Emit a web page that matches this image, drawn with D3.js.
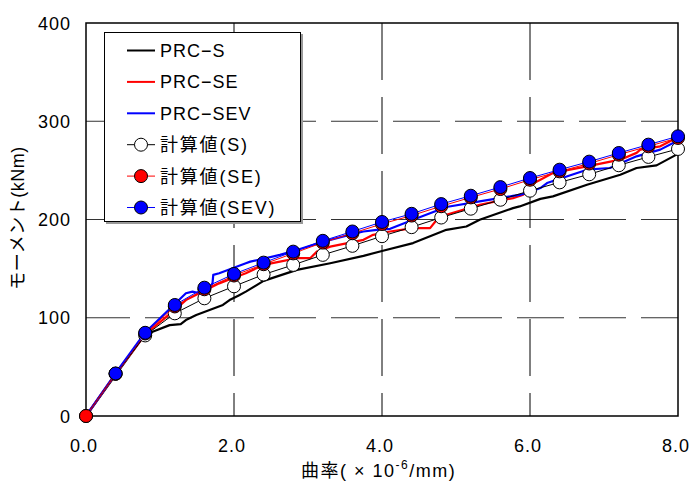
<!DOCTYPE html>
<html>
<head>
<meta charset="utf-8">
<script src="https://cdn.jsdelivr.net/npm/d3@7.9.0/dist/d3.min.js"></script>
<style>
  body { margin: 0; background: #fff; }
  text { font-family: "Liberation Sans", "Noto Sans CJK JP", sans-serif; fill: #000; }
</style>
</head>
<body>
<svg id="chart" width="690" height="489"></svg>
<script>
// x tick labels / y tick values
const xTicks = [0, 2, 4, 6, 8];
const yTicks = [0, 100, 200, 300, 400];
const xGrid = [2, 4, 6];
const yGrid = [100, 200, 300];

// measured curves (curvature x1e-6/mm, moment kNm)
const expSX = [0, 0.4, 0.74, 0.9, 1.13, 1.28, 1.35, 1.49, 1.67, 1.85, 1.94, 2.07, 2.16, 2.4, 2.85, 3.3, 3.75, 4.0, 4.42, 4.87, 5.14, 5.32, 5.77, 5.86, 6.14, 6.31, 6.77, 7.22, 7.44, 7.71, 7.98, 8.0];
const expSY = [0, 42, 77, 85.7, 92.5, 93.6, 97.7, 102.8, 107.9, 113, 118, 123, 126.6, 137.5, 148.7, 155.5, 163, 168, 176, 189.5, 192.9, 199.7, 211.6, 213.3, 221, 223.5, 235.4, 245.6, 252.4, 255.1, 266, 266.5];

const expSEX = [0, 0.4, 0.8, 1.2, 1.35, 1.53, 1.8, 1.98, 2.16, 2.4, 2.62, 2.85, 3.03, 3.12, 3.3, 3.75, 3.88, 4.11, 4.42, 4.65, 4.74, 4.87, 5.32, 5.77, 5.91, 6.0, 6.14, 6.31, 6.77, 7.22, 7.44, 7.49, 7.76, 7.98, 8.0];
const expSEY = [0, 43, 83, 108, 118, 125, 135, 140.2, 145.3, 153.8, 157.1, 160.6, 160.6, 167.3, 172.4, 179.3, 184.4, 187.8, 191.2, 191.2, 199.7, 204.8, 215, 221.8, 225.2, 235, 240.5, 247.3, 254.1, 260.9, 267.8, 271.1, 274.5, 283, 283.5];

const expSEVX = [0, 0.4, 0.8, 1.2, 1.35, 1.44, 1.53, 1.65, 1.71, 1.72, 1.8, 1.98, 2.16, 2.22, 2.62, 2.85, 3.07, 3.3, 3.61, 3.75, 3.93, 4.11, 4.42, 4.87, 5.32, 5.77, 5.86, 6.0, 6.14, 6.23, 6.77, 7.08, 7.44, 7.76, 7.98, 8.0];
const expSEVY = [0, 43.5, 85, 114, 124.9, 126.6, 124.9, 127, 135.4, 143.6, 145.3, 150.4, 155.5, 157.1, 164, 169, 174.2, 179.3, 185.4, 187.8, 189.5, 190.5, 199.7, 212.7, 218.4, 224, 225, 228, 232, 237.1, 250.7, 252.4, 264.3, 271.1, 279.6, 280];

// calculated values
const calcX = [0, 0.4, 0.8, 1.2, 1.6, 2.0, 2.4, 2.8, 3.2, 3.6, 4.0, 4.4, 4.8, 5.2, 5.6, 6.0, 6.4, 6.8, 7.2, 7.6, 8.0];
const calcS = [0, 43, 82, 104.5, 119.8, 132, 144, 153.8, 164, 173.2, 183, 192.2, 202, 211, 220.1, 229.3, 237.8, 246, 255.2, 263.7, 271.8];
const calcSE = [0, 43, 84, 111.5, 129, 143, 154.5, 165.5, 176.5, 186, 195.5, 204, 213.5, 222.5, 231, 240.5, 249, 257, 266, 274.5, 283];
const calcSEV = [null, 43.3, 84.7, 113, 130.6, 144.6, 156.1, 167.3, 178.3, 187.8, 197.5, 205.8, 215.7, 224.2, 233, 242.2, 250.7, 258.9, 267.7, 276.2, 284.7];

const legendLabels = ["PRC−S", "PRC−SE", "PRC−SEV", "計算値(S)", "計算値(SE)", "計算値(SEV)"];

const svg = d3.select("#chart");

const x = d3.scaleLinear().domain([0, 8]).range([86, 678]);
const y = d3.scaleLinear().domain([0, 400]).range([416, 23]);

// grid
svg.append("g")
  .selectAll("line")
  .data(yGrid)
  .enter()
  .append("line")
  .attr("x1", x(0))
  .attr("x2", x(8))
  .attr("y1", (d) => y(d))
  .attr("y2", (d) => y(d))
  .attr("stroke", "#333")
  .attr("stroke-width", 1)
  .attr("stroke-dasharray", "47,15")
  .attr("stroke-dashoffset", 3);

svg.append("g")
  .selectAll("line")
  .data(xGrid)
  .enter()
  .append("line")
  .attr("x1", (d) => x(d))
  .attr("x2", (d) => x(d))
  .attr("y1", y(400))
  .attr("y2", y(0))
  .attr("stroke", "#000")
  .attr("stroke-width", 1)
  .attr("stroke-dasharray", "57,17");

// frame
svg.append("rect")
  .attr("x", x(0))
  .attr("y", y(400))
  .attr("width", x(8) - x(0))
  .attr("height", y(0) - y(400))
  .attr("fill", "none")
  .attr("stroke", "#000")
  .attr("stroke-width", 1.5);

// tick labels
svg.append("g")
  .selectAll("text")
  .data(yTicks)
  .enter()
  .append("text")
  .attr("x", 71)
  .attr("y", (d) => y(d) + 6.5)
  .attr("text-anchor", "end")
  .attr("font-size", 18)
  .attr("letter-spacing", 1)
  .text((d) => d);

svg.append("g")
  .selectAll("text")
  .data(xTicks)
  .enter()
  .append("text")
  .attr("x", (d) => x(d) - 2)
  .attr("y", 452)
  .attr("text-anchor", "middle")
  .attr("font-size", 18)
  .attr("letter-spacing", 1)
  .text((d) => d.toFixed(1));

// axis titles
const xTitle = svg.append("text")
  .attr("x", 301)
  .attr("y", 477)
  .attr("font-size", 18)
  .attr("letter-spacing", 1.5);
xTitle.append("tspan").text("曲率( × 10");
xTitle.append("tspan").attr("dy", -8).attr("font-size", 12).text("-6");
xTitle.append("tspan").attr("dy", 8).text("/mm)");

svg.append("text")
  .attr("transform", "translate(24,218) rotate(-90)")
  .attr("text-anchor", "middle")
  .attr("font-size", 18)
  .attr("letter-spacing", 0.5)
  .text("モーメント(kNm)");

// measured curves
const line = d3.line()
  .defined((d) => d[1] != null)
  .x((d) => x(d[0]))
  .y((d) => y(d[1]));

const expSeries = [
  { xs: expSX, ys: expSY, color: "#000" },
  { xs: expSEX, ys: expSEY, color: "#ff0000" },
  { xs: expSEVX, ys: expSEVY, color: "#0000ff" },
];

expSeries.forEach((s) => {
  svg.append("path")
    .datum(s.xs.map((v, i) => [v, s.ys[i]]))
    .attr("fill", "none")
    .attr("stroke", s.color)
    .attr("stroke-width", 2.2)
    .attr("stroke-linejoin", "round")
    .attr("d", line);
});

// calculated series
const calcSeries = [
  { ys: calcS, color: "#000", fill: "#fff" },
  { ys: calcSE, color: "#ff0000", fill: "#ff0000" },
  { ys: calcSEV, color: "#0000ff", fill: "#0000ff" },
];

calcSeries.forEach((s) => {
  const pts = calcX.map((v, i) => [v, s.ys[i]]);
  svg.append("path")
    .datum(pts)
    .attr("fill", "none")
    .attr("stroke", s.color)
    .attr("stroke-width", 1)
    .attr("d", line);
  svg.append("g")
    .selectAll("circle")
    .data(pts.filter((d) => d[1] != null))
    .enter()
    .append("circle")
    .attr("cx", (d) => x(d[0]))
    .attr("cy", (d) => y(d[1]))
    .attr("r", 6.5)
    .attr("fill", s.fill)
    .attr("stroke", "#000")
    .attr("stroke-width", 1);
});

// legend
const legend = svg.append("g");
legend.append("rect")
  .attr("x", 106)
  .attr("y", 34)
  .attr("width", 197)
  .attr("height", 190)
  .attr("fill", "#999");
legend.append("rect")
  .attr("x", 104.5)
  .attr("y", 32.5)
  .attr("width", 196)
  .attr("height", 189)
  .attr("fill", "#fff")
  .attr("stroke", "#000")
  .attr("stroke-width", 1);

const legendColors = ["#000", "#ff0000", "#0000ff", "#000", "#ff0000", "#0000ff"];
const legendFills = [null, null, null, "#fff", "#ff0000", "#0000ff"];

legendLabels.forEach((label, i) => {
  const cy = 50.5 + i * 31.4;
  legend.append("line")
    .attr("x1", 127)
    .attr("x2", 155)
    .attr("y1", cy)
    .attr("y2", cy)
    .attr("stroke", legendColors[i])
    .attr("stroke-width", i < 3 ? 2 : 1);
  if (legendFills[i]) {
    legend.append("circle")
      .attr("cx", 141)
      .attr("cy", cy)
      .attr("r", 6.5)
      .attr("fill", legendFills[i])
      .attr("stroke", "#000")
      .attr("stroke-width", 1);
  }
  legend.append("text")
    .attr("x", 160)
    .attr("y", cy + 6.5)
    .attr("font-size", 18)
    .attr("letter-spacing", i < 3 ? 1 : 1.8)
    .text(label);
});
</script>
</body>
</html>
